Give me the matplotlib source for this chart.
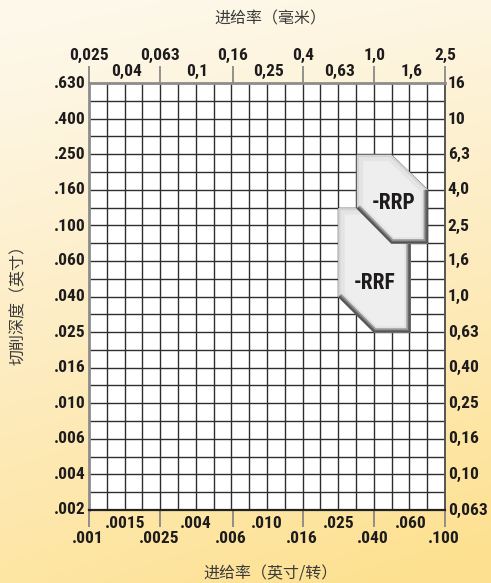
import matplotlib
matplotlib.use('Agg')
import matplotlib.pyplot as plt
import numpy as np
from matplotlib.patches import Polygon
from matplotlib.colors import LinearSegmentedColormap
from matplotlib.ticker import NullLocator, FixedLocator
from matplotlib import font_manager

# Axis values (mm) and their labels
x_major_mm = [0.025, 0.063, 0.16, 0.4, 1.0, 2.5]
x_major_mm_lbl = ['0,025', '0,063', '0,16', '0,4', '1,0', '2,5']
x_major_in_lbl = ['.001', '.0025', '.006', '.016', '.040', '.100']
x_mid_mm = [0.04, 0.1, 0.25, 0.63, 1.6]
x_mid_mm_lbl = ['0,04', '0,1', '0,25', '0,63', '1,6']
x_mid_in_lbl = ['.0015', '.004', '.010', '.025', '.060']

y_mm = [0.063, 0.1, 0.16, 0.25, 0.4, 0.63, 1.0, 1.6, 2.5, 4.0, 6.3, 10, 16]
y_mm_lbl = ['0,063', '0,10', '0,16', '0,25', '0,40', '0,63', '1,0', '1,6',
            '2,5', '4,0', '6,3', '10', '16']
y_in_lbl = ['.002', '.004', '.006', '.010', '.016', '.025', '.040', '.060',
            '.100', '.160', '.250', '.400', '.630']

# Chipbreaker application areas (feed mm/rev, depth of cut mm)
rrf_feed = [0.63, 1.0, 1.6, 1.6, 1.0, 0.63]
rrf_depth = [3.15, 3.15, 2.0, 0.63, 0.63, 1.0]
rrp_feed = [0.8, 1.25, 2.0, 2.0, 1.25, 0.8]
rrp_depth = [6.3, 6.3, 4.0, 2.0, 2.0, 3.15]

# pick a narrow bold face if one is installed
names = {f.name for f in font_manager.fontManager.ttflist}
NUM = [n for n in ['Roboto Condensed', 'Liberation Sans Narrow', 'DejaVu Sans'] if n in names]
CJK = ['Noto Sans CJK SC', 'DejaVu Sans']
TXT = '#1e1b1c'
NUMKW = dict(fontweight='heavy', family=NUM, fontstretch='condensed', color=TXT)

fig = plt.figure(figsize=(4.91, 5.83), dpi=100)

# background gradient
bg = fig.add_axes([0, 0, 1, 1], zorder=-5)
bg.axis('off')
yy, xx = np.mgrid[0:1:200j, 0:1:200j]
t = np.clip(0.85 * yy + 0.25 * xx * yy + 0.15 * xx * (1 - yy) - 0.05, 0, 1)
cmap = LinearSegmentedColormap.from_list('bgc', ['#fef8ea', '#fdecc0', '#fde191'])
bg.imshow(t, cmap=cmap, aspect='auto', extent=[0, 1, 0, 1], vmin=0, vmax=1)

ax = fig.add_axes([89 / 491, 73 / 583, 356 / 491, 427 / 583])
ax.set_xscale('log')
ax.set_yscale('log')
ax.set_xlim(0.025, 2.5)
ax.set_ylim(0.063, 16)
ax.set_facecolor('white')

# grid: 10 cells per decade
for gx in np.geomspace(0.025, 2.5, 21)[1:-1]:
    ax.axvline(gx, color='#2e2e2e', lw=1.0, zorder=1)
for gy in np.geomspace(0.063, 16, 25)[1:-1]:
    ax.axhline(gy, color='#2e2e2e', lw=1.0, zorder=1)

for side, c, w in [('left', '#8c8c8c', 2.0), ('top', '#8c8c8c', 2.0),
                   ('bottom', '#222222', 1.6), ('right', '#555555', 1.4)]:
    ax.spines[side].set_color(c)
    ax.spines[side].set_linewidth(w)

ax.xaxis.set_major_locator(FixedLocator(x_major_mm))
ax.xaxis.set_minor_locator(NullLocator())
ax.yaxis.set_major_locator(NullLocator())
ax.yaxis.set_minor_locator(NullLocator())
ax.tick_params(axis='x', which='major', top=True, bottom=True, direction='out',
               length=12, width=1.2, color='#808080',
               labelbottom=False, labeltop=False)


def label(txt, xy, coords, dx, dy, ha):
    ax.annotate(txt, xy=xy, xycoords=coords, xytext=(dx, dy),
                textcoords='offset points', ha=ha, va='center',
                fontsize=12.5, annotation_clip=False, **NUMKW)


xc = ('data', 'axes fraction')
yc = ('axes fraction', 'data')
for v, a, b in zip(x_major_mm, x_major_mm_lbl, x_major_in_lbl):
    label(a, (v, 1), xc, 0, 20, 'center')
    label(b, (v, 0), xc, -1, -20.5, 'center')
for v, a, b in zip(x_mid_mm, x_mid_mm_lbl, x_mid_in_lbl):
    label(a, (v, 1), xc, 1, 8, 'center')
    label(b, (v, 0), xc, 0, -9.5, 'center')
for v, a, b in zip(y_mm, y_mm_lbl, y_in_lbl):
    label(a, (1, v), yc, 2, 0, 'left')
    label(b, (0, v), yc, -2.5, 0, 'right')


def insert(xs, ys, text, tx, ty, z):
    verts = list(zip(xs, ys))
    base = Polygon(verts, closed=True, fc='#eeeeee', ec='#555555', lw=0.7, zorder=z)
    ax.add_patch(base)
    inner = Polygon(verts, closed=True, fc='none', ec='#e4e4e4', lw=9.0, zorder=z + 0.05)
    ax.add_patch(inner)
    inner.set_clip_path(base)
    rim = Polygon(verts, closed=True, fc='none', ec='#d4d4d4', lw=3.0, zorder=z + 0.1)
    ax.add_patch(rim)
    rim.set_clip_path(base)
    sx = [xs[2], xs[3], xs[4], xs[5]]
    sy = [ys[2], ys[3], ys[4], ys[5]]
    for lw, c in [(6.0, '#9a9a9a'), (3.6, '#6a6a6a'), (1.5, '#4a4a4a')]:
        ln, = ax.plot(sx, sy, color=c, lw=lw, solid_joinstyle='miter',
                      solid_capstyle='butt', zorder=z + 0.2)
        ln.set_clip_path(base)
    ax.text(tx, ty, text, ha='center', va='center', fontsize=15.5,
            zorder=z + 0.5, **NUMKW)


insert(rrf_feed, rrf_depth, '-RRF', 1.01, 1.2, 3)
insert(rrp_feed, rrp_depth, '-RRP', 1.28, 3.38, 6)

fig.text(270 / 491, 1 - 19 / 583, '进给率（毫米）', ha='center', va='center',
         fontsize=11.5, family=CJK, color='#3a3a3a')
fig.text(271 / 491, 1 - 574 / 583, '进给率（英寸/转）', ha='center', va='center',
         fontsize=11.5, family=CJK, color='#3a3a3a')
fig.text(18 / 491, 1 - 301 / 583, '切削深度（英寸）', ha='center', va='center',
         rotation=90, fontsize=11.5, family=CJK, color='#3a3a3a')

fig.savefig('out.png', dpi=100)
